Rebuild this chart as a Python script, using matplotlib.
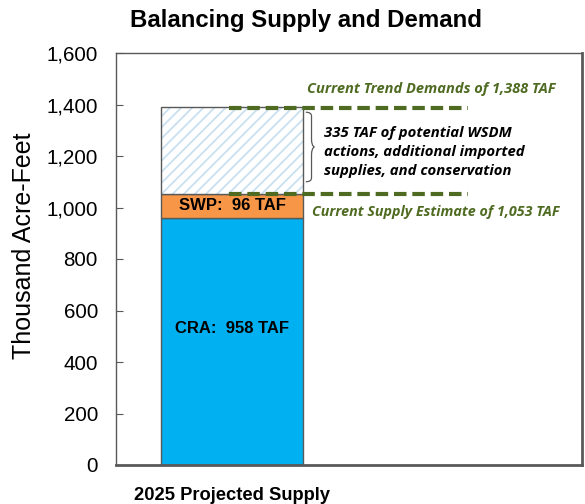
import matplotlib.pyplot as plt
from matplotlib.path import Path
from matplotlib.patches import PathPatch

# data (thousand acre-feet)
category = ["2025 Projected Supply"]
cra = [958]
swp = [96]
gap = [335]
supply_total = 1053
demand_total = 1388

plt.rcParams["font.family"] = ["Liberation Sans", "DejaVu Sans"]
green = "#4F6B22"
edge = "#595959"
plt.rcParams["hatch.linewidth"] = 1.3

fig = plt.figure(figsize=(5.85, 5.04), dpi=100)
ax = fig.add_axes([116 / 585, 39 / 504, 466 / 585, 412 / 504])

base = [c + s for c, s in zip(cra, swp)]
ax.bar(category, cra, width=1, color="#00B0F0", edgecolor=edge, linewidth=1)
ax.bar(category, swp, bottom=cra, width=1, color="#F79646", edgecolor=edge, linewidth=1)
# hatch takes the edge colour, so draw hatch and outline separately
ax.bar(category, gap, bottom=base, width=1, color="white",
       edgecolor="#C9E0F0", linewidth=0, hatch="///")
ax.bar(category, gap, bottom=base, width=1, fill=False, edgecolor=edge, linewidth=1)

ax.text(0, 532, "CRA:  %d TAF" % cra[0], ha="center", va="center",
        fontsize=12, fontweight="bold")
ax.text(0, cra[0] + swp[0] / 2, "SWP:  %d TAF" % swp[0], ha="center", va="center",
        fontsize=12, fontweight="bold")

for val in (demand_total, supply_total):
    ax.plot([-0.02, 1.66], [val, val], color=green, lw=3, ls=(0, (3, 1.4)),
            solid_capstyle="butt", zorder=5)

ax.text(0.53, 1460, "Current Trend Demands of 1,388 TAF",
        color=green, fontsize=10.5, fontweight="bold", style="italic",
        family=["Open Sans", "DejaVu Sans"], va="center")
ax.text(0.56, 982, "Current Supply Estimate of 1,053 TAF",
        color=green, fontsize=10.3, fontweight="bold", style="italic",
        family=["Open Sans", "DejaVu Sans"], va="center")

# curly brace
x0, x1 = 0.52, 0.58
ya, yb = 1370, 1100
ym = (ya + yb) / 2
verts = [(x0, ya), (x1 - 0.02, ya), (x1 - 0.02, ya - 15), (x1 - 0.02, ym + 30),
         (x1 - 0.02, ym + 5), (x1, ym), (x1 - 0.02, ym - 5), (x1 - 0.02, ym - 30),
         (x1 - 0.02, yb + 15), (x1 - 0.02, yb), (x0, yb)]
codes = [Path.MOVETO, Path.CURVE3, Path.CURVE3, Path.LINETO,
         Path.CURVE3, Path.CURVE3, Path.CURVE3, Path.CURVE3,
         Path.LINETO, Path.CURVE3, Path.CURVE3]
ax.add_patch(PathPatch(Path(verts, codes), fill=False, edgecolor=edge, lw=0.9))

ax.text(0.65, 1215, "335 TAF of potential WSDM\nactions, additional imported\nsupplies, and conservation",
        fontsize=10.7, fontweight="bold", style="italic", va="center", ha="left",
        family=["Open Sans", "DejaVu Sans"], linespacing=1.45)

ax.set_xlim(-0.817, 2.465)
ax.set_ylim(0, 1600)
ax.set_yticks(range(0, 1601, 200))
ax.set_yticklabels(["{:,}".format(v) for v in range(0, 1601, 200)], fontsize=14.8)
ax.tick_params(axis="y", direction="in", length=5, color=edge, pad=13)
ax.tick_params(axis="x", length=0, pad=16, labelsize=13.2)
for lab in ax.get_xticklabels():
    lab.set_fontweight("bold")
for sp in ax.spines.values():
    sp.set_color(edge)
    sp.set_linewidth(1)
ax.spines["right"].set_linewidth(2)
ax.spines["bottom"].set_linewidth(2)

ax.set_ylabel("Thousand Acre-Feet", fontsize=18)
ax.yaxis.set_label_coords(-0.172, 0.533)
fig.text(306 / 585, 1 - 20 / 504, "Balancing Supply and Demand", ha="center",
         va="center", fontsize=17.3, fontweight="bold")

fig.savefig("out.png", dpi=100)
